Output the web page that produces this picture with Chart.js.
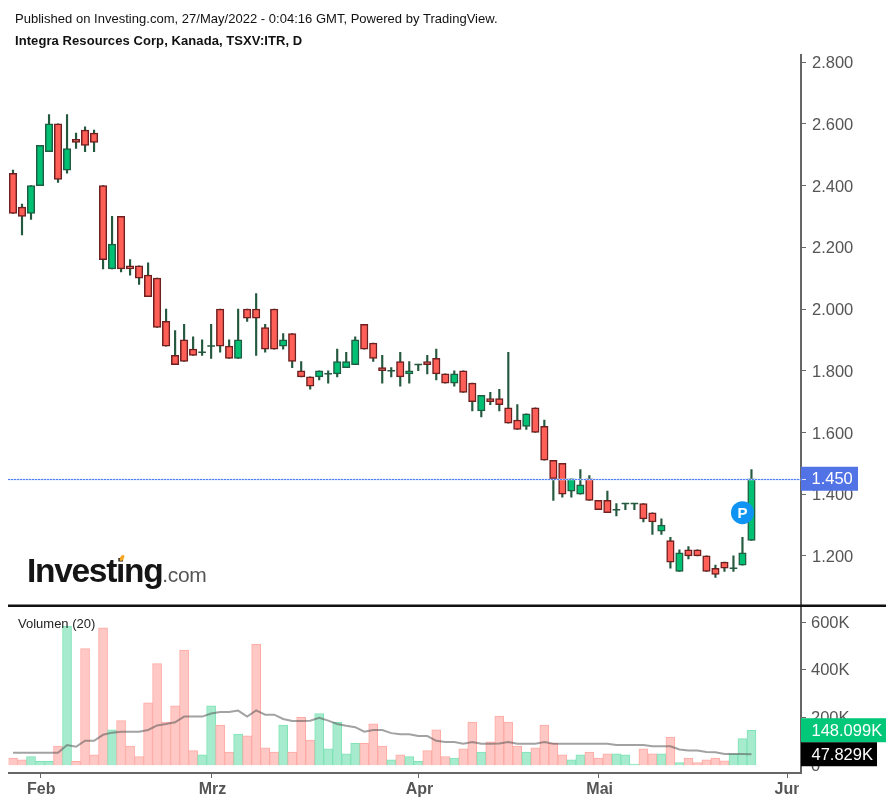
<!DOCTYPE html>
<html>
<head>
<meta charset="utf-8">
<script src="https://cdn.jsdelivr.net/npm/chart.js@4"></script>
<style>
body { margin:0; background:#fff; font-family:"Liberation Sans",sans-serif; }
#wrap { position:relative; width:893px; height:807px; overflow:hidden; }
canvas { position:absolute; left:0; top:0; }
.txt { position:absolute; white-space:nowrap; color:#111; }
</style>
</head>
<body>
<div id="wrap">
  <canvas id="chart" width="893" height="807"></canvas>
  <div class="txt" style="left:15px;top:11px;font-size:13px;letter-spacing:.02px">Published on Investing.com, 27/May/2022 - 0:04:16 GMT, Powered by TradingView.</div>
  <div class="txt" style="left:15px;top:33px;font-size:13px;font-weight:bold;letter-spacing:.08px">Integra Resources Corp, Kanada, TSXV:ITR, D</div>
  <div class="txt" style="left:18px;top:616px;font-size:13px;color:#222">Volumen (20)</div>
  <div class="txt" style="left:27px;top:552px;font-size:33.5px;font-weight:bold;letter-spacing:-1.3px;color:#151515">Investing<span style="font-size:21px;font-weight:normal;letter-spacing:-.4px;color:#555">.com</span></div>
  <div style="position:absolute;left:119.5px;top:555px;width:4px;height:6px;border-radius:2px;transform:skewX(-20deg);background:#f5a623"></div>
</div>
<script>
// trading days, with the empty days up to the Jun tick after the last candle
var dates = [
  "2022-01-27","2022-01-28","2022-01-31",
  "2022-02-01","2022-02-02","2022-02-03","2022-02-04","2022-02-07","2022-02-08","2022-02-09","2022-02-10","2022-02-11",
  "2022-02-14","2022-02-15","2022-02-16","2022-02-17","2022-02-18","2022-02-22","2022-02-23","2022-02-24","2022-02-25","2022-02-28",
  "2022-03-01","2022-03-02","2022-03-03","2022-03-04","2022-03-07","2022-03-08","2022-03-09","2022-03-10","2022-03-11",
  "2022-03-14","2022-03-15","2022-03-16","2022-03-17","2022-03-18","2022-03-21","2022-03-22","2022-03-23","2022-03-24","2022-03-25",
  "2022-03-28","2022-03-29","2022-03-30","2022-03-31",
  "2022-04-01","2022-04-04","2022-04-05","2022-04-06","2022-04-07","2022-04-08","2022-04-11","2022-04-12","2022-04-13","2022-04-14",
  "2022-04-18","2022-04-19","2022-04-20","2022-04-21","2022-04-22","2022-04-25","2022-04-26","2022-04-27","2022-04-28","2022-04-29",
  "2022-05-02","2022-05-03","2022-05-04","2022-05-05","2022-05-06","2022-05-09","2022-05-10","2022-05-11","2022-05-12","2022-05-13",
  "2022-05-16","2022-05-17","2022-05-18","2022-05-19","2022-05-20","2022-05-24","2022-05-25","2022-05-26",
  "2022-05-27","2022-05-30","2022-05-31","2022-06-01","2022-06-02"
];
var tickIndexes = [3, 22, 45, 65, 86];
var tickLabels = ["Feb", "Mrz", "Apr", "Mai", "Jun"];

var opens = [2.44,2.33,2.31,2.40,2.51,2.60,2.45,2.55,2.58,2.57,
  2.40,2.13,2.30,2.14,2.14,2.11,2.10,1.96,1.85,1.90,
  1.87,1.86,1.88,2.00,1.88,1.84,2.00,2.00,1.94,2.00,
  1.88,1.92,1.80,1.78,1.78,1.79,1.79,1.81,1.82,1.95,
  1.89,1.81,1.80,1.83,1.79,1.82,1.83,1.84,1.79,1.76,
  1.80,1.76,1.67,1.71,1.71,1.68,1.64,1.62,1.68,1.62,
  1.51,1.50,1.41,1.40,1.45,1.38,1.38,1.35,1.37,1.37,
  1.37,1.34,1.28,1.25,1.15,1.22,1.22,1.20,1.16,1.18,
  1.16,1.17,1.25];
var closes = [2.31,2.30,2.40,2.53,2.60,2.42,2.52,2.54,2.53,2.54,
  2.16,2.21,2.13,2.13,2.10,2.04,1.94,1.88,1.82,1.83,
  1.85,1.86,1.88,1.88,1.84,1.90,1.97,1.97,1.87,1.87,
  1.90,1.83,1.78,1.75,1.80,1.79,1.83,1.83,1.90,1.87,
  1.84,1.80,1.80,1.78,1.80,1.82,1.82,1.79,1.76,1.79,
  1.73,1.70,1.72,1.70,1.69,1.63,1.61,1.66,1.60,1.51,
  1.45,1.40,1.45,1.43,1.38,1.35,1.34,1.35,1.37,1.37,
  1.32,1.31,1.30,1.18,1.21,1.20,1.20,1.15,1.14,1.16,
  1.16,1.21,1.45];
var highs = [2.45,2.34,2.40,2.53,2.63,2.60,2.63,2.57,2.59,2.58,
  2.40,2.30,2.30,2.16,2.14,2.15,2.10,2.00,1.93,1.95,
  1.91,1.90,1.95,2.00,1.90,2.00,2.00,2.05,1.95,2.00,
  1.92,1.92,1.83,1.78,1.80,1.80,1.87,1.86,1.91,1.95,
  1.89,1.85,1.81,1.86,1.83,1.82,1.85,1.87,1.79,1.80,
  1.80,1.76,1.72,1.73,1.74,1.86,1.69,1.66,1.68,1.64,
  1.51,1.50,1.45,1.48,1.46,1.38,1.41,1.37,1.37,1.37,
  1.37,1.34,1.32,1.26,1.22,1.23,1.22,1.20,1.17,1.18,
  1.20,1.26,1.48];
var lows = [2.31,2.24,2.29,2.40,2.51,2.41,2.44,2.52,2.51,2.51,
  2.13,2.13,2.12,2.11,2.08,2.04,1.94,1.88,1.82,1.83,
  1.85,1.85,1.84,1.86,1.84,1.84,1.96,1.85,1.86,1.87,
  1.87,1.81,1.78,1.74,1.77,1.76,1.78,1.81,1.82,1.87,
  1.83,1.76,1.78,1.75,1.76,1.80,1.79,1.77,1.76,1.75,
  1.73,1.67,1.65,1.69,1.67,1.63,1.61,1.61,1.60,1.51,
  1.38,1.39,1.39,1.40,1.38,1.35,1.34,1.33,1.35,1.35,
  1.31,1.27,1.27,1.16,1.15,1.19,1.20,1.15,1.13,1.15,
  1.15,1.17,1.25];

// volume in thousands
var volumes = [32,25,38,18,18,82,583,18,489,45,
  576,150,188,82,38,263,426,182,250,483,
  63,45,250,170,57,132,125,508,75,57,
  170,57,202,107,218,70,181,50,93,93,
  175,82,25,45,38,18,63,150,38,32,
  70,182,57,100,207,182,82,57,75,170,
  93,45,25,45,57,32,50,50,45,7,
  70,50,50,120,13,32,13,25,32,20,
  50,113,148.099];
var volumeAverage = [54,54,54,54,54,54,86,79,104,104,
  129,138,142,142,142,149,168,174,181,205,
  205,205,218,224,224,230,205,231,213,213,
  195,187,187,188,200,188,174,167,161,142,
  149,149,136,131,131,124,124,104,99,99,
  92,99,92,92,93,99,92,92,92,99,
  92,92,92,92,92,92,92,86,86,86,
  86,81,81,81,68,63,63,57,56,49,
  49,49,47.829];

var lastClose = 1.45;
var markerIndex = 81;
var markerPrice = 1.34;

var RED = "#ff5f57", RED_EDGE = "#6e1f1f", GREEN = "#00c074", GREEN_EDGE = "#1f5e42";
var WICK = "#25593f", AXIS = "#666666", LABEL = "#555555";

function isUp(i) { return closes[i] >= opens[i]; }

var wicks = [], bodies = [], dojis = [], bodyFill = [], bodyEdge = [], volFill = [], volEdge = [], marker = [];
for (var i = 0; i < opens.length; i++) {
    wicks.push([lows[i], highs[i]]);
    bodies.push([opens[i], closes[i]]);
    dojis.push(opens[i] === closes[i] ? opens[i] : null);
    bodyFill.push(isUp(i) ? GREEN : RED);
    bodyEdge.push(isUp(i) ? GREEN_EDGE : RED_EDGE);
    volFill.push(isUp(i) ? "#a6ebcd" : "#ffc8c4");
    volEdge.push(isUp(i) ? "#7fe3b6" : "#ffaaa4");
    marker.push(i === markerIndex ? markerPrice : null);
}

function box(ctx, x, y, w, h, color, text) {
    ctx.fillStyle = color;
    ctx.fillRect(x, y - h / 2, w, h);
    ctx.fillStyle = "#fff";
    ctx.font = "16.5px 'Liberation Sans'";
    ctx.textAlign = "left";
    ctx.textBaseline = "middle";
    ctx.fillText(text, x + 10.5, y + 1);
}

var overlays = {
    id: "overlays",
    afterDraw: function (chart) {
        var ctx = chart.ctx, area = chart.chartArea;
        var py = chart.scales.price, vy = chart.scales.volume, xs = chart.scales.x;
        var lineY = Math.round(py.getPixelForValue(lastClose)) + 0.5;

        ctx.save();
        // last price line, pale underlay with blue dots on top
        ctx.strokeStyle = "#c5d5fb";
        ctx.lineWidth = 1.6;
        ctx.beginPath();
        ctx.moveTo(8, lineY);
        ctx.lineTo(area.right, lineY);
        ctx.stroke();
        ctx.strokeStyle = "#4f80f8";
        ctx.lineWidth = 1;
        ctx.setLineDash([2, 1]);
        ctx.beginPath();
        ctx.moveTo(8, lineY);
        ctx.lineTo(area.right, lineY);
        ctx.stroke();
        ctx.setLineDash([]);

        // pane separator
        ctx.fillStyle = "#111";
        ctx.fillRect(8, 604.5, 878, 2.5);

        // value labels on the axis
        box(ctx, area.right, py.getPixelForValue(lastClose), 57, 24, "#5273e6", "1.450");
        ctx.fillStyle = "#dfe6fb";
        ctx.fillRect(area.right + 1, lineY - 0.5, 4, 1);
        box(ctx, area.right, vy.getPixelForValue(148.099), 85, 24, "#00c878", "148.099K");
        box(ctx, area.right, vy.getPixelForValue(47.829), 76, 24, "#000000", "47.829K");

        // P marker letter
        ctx.fillStyle = "#fff";
        ctx.font = "bold 15px 'Liberation Sans'";
        ctx.textAlign = "center";
        ctx.textBaseline = "middle";
        ctx.fillText("P", xs.getPixelForValue(markerIndex), py.getPixelForValue(markerPrice) + 1);

        // the Jun label is cut off at the axis in the original
        ctx.fillStyle = "#fff";
        ctx.fillRect(799, 778, 12, 28);
        ctx.restore();
    }
};

var myChart = new Chart(document.getElementById("chart"), {
    data: {
        labels: dates,
        datasets: [
            {
                type: "line", data: volumeAverage, yAxisID: "volume", order: 0,
                borderColor: "rgba(85,85,85,0.55)", borderWidth: 2, pointRadius: 0, tension: 0
            },
            {
                type: "bar", data: volumes, yAxisID: "volume", order: 1, grouped: false,
                backgroundColor: volFill, borderColor: volEdge, borderWidth: 1,
                barPercentage: 1, categoryPercentage: 1
            },
            {
                type: "line", data: marker, yAxisID: "price", order: 0, showLine: false,
                pointRadius: 11.5, pointBackgroundColor: "#0f94f3", pointBorderWidth: 0
            },
            {
                type: "line", data: dojis, yAxisID: "price", order: 1, showLine: false,
                pointStyle: "line", pointRadius: 3.8, pointBorderColor: WICK, pointBorderWidth: 1.5
            },
            {
                type: "bar", data: bodies, yAxisID: "price", order: 2, grouped: false,
                backgroundColor: bodyFill, borderColor: bodyEdge, borderWidth: 1.5,
                borderSkipped: false, barThickness: 7.5
            },
            {
                type: "bar", data: wicks, yAxisID: "price", order: 3, grouped: false,
                backgroundColor: WICK, borderWidth: 0, barThickness: 1.5
            }
        ]
    },
    options: {
        responsive: false,
        animation: false,
        layout: { autoPadding: false, padding: { left: 8.5, top: 55, right: 0, bottom: 0 } },
        plugins: { legend: { display: false }, tooltip: { enabled: false } },
        scales: {
            x: {
                type: "category",
                afterBuildTicks: function (axis) {
                    axis.ticks = tickIndexes.map(function (v) { return { value: v }; });
                },
                afterFit: function (axis) {
                    axis.height = 34;
                    axis.paddingLeft = 0;
                    axis.paddingRight = 0;
                },
                border: { color: AXIS, width: 2 },
                grid: { offset: false, drawOnChartArea: false, drawTicks: true, tickLength: 5, tickColor: AXIS },
                ticks: {
                    autoSkip: false, maxRotation: 0, padding: 2, labelOffset: 1.3, color: LABEL,
                    font: { family: "Liberation Sans", size: 16, weight: "bold" },
                    callback: function (value) { return tickLabels[tickIndexes.indexOf(value)]; }
                }
            },
            price: {
                position: "right", stack: "panes", stackWeight: 550, weight: 1,
                min: 1.041, max: 2.823,
                afterFit: function (axis) { axis.width = 92; },
                border: { color: AXIS, width: 2 },
                grid: { drawOnChartArea: false, tickLength: 5, tickColor: AXIS },
                ticks: {
                    stepSize: 0.2, includeBounds: false, padding: 6, labelOffset: 1.5, color: LABEL,
                    font: { family: "Liberation Sans", size: 16.5 },
                    callback: function (v) { return v.toFixed(3); }
                }
            },
            volume: {
                position: "right", stack: "panes", stackWeight: 168, weight: 2,
                min: -30.5, max: 671,
                afterFit: function (axis) { axis.width = 92; },
                border: { color: AXIS, width: 2 },
                grid: { drawOnChartArea: false, tickLength: 5, tickColor: AXIS },
                ticks: {
                    stepSize: 200, includeBounds: false, padding: 5, labelOffset: 1, color: LABEL,
                    font: { family: "Liberation Sans", size: 16.5 },
                    callback: function (v) { return v === 0 ? "0" : v + "K"; }
                }
            }
        }
    },
    plugins: [overlays]
});
</script>
</body>
</html>
